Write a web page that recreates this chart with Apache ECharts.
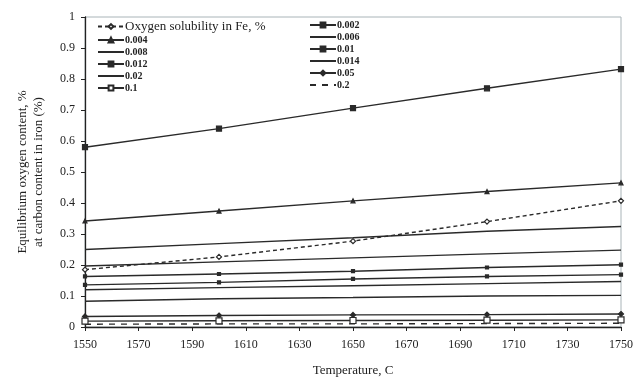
<!DOCTYPE html>
<html>
<head>
<meta charset="utf-8">
<script src="https://cdn.jsdelivr.net/npm/echarts@6/dist/echarts.min.js"></script>
<style>
html, body { margin: 0; padding: 0; background: #fff; }
#chart { width: 644px; height: 378px; }
</style>
</head>
<body>
<div id="chart"></div>
<script>
// temperatures, C
var temps = [1550, 1600, 1650, 1700, 1750];
var xTicks = [1550, 1570, 1590, 1610, 1630, 1650, 1670, 1690, 1710, 1730, 1750];
var yTicks = [0, 0.1, 0.2, 0.3, 0.4, 0.5, 0.6, 0.7, 0.8, 0.9, 1];

// oxygen solubility in Fe, %
var oxySol = [0.185, 0.226, 0.277, 0.34, 0.407];
// equilibrium oxygen at carbon content
var c0002 = [0.58, 0.64, 0.706, 0.77, 0.832];
var c0004 = [0.342, 0.374, 0.407, 0.437, 0.465];
var c0006 = [0.25, 0.269, 0.288, 0.309, 0.324];
var c0008 = [0.197, 0.21, 0.223, 0.236, 0.248];
var c001  = [0.163, 0.171, 0.18, 0.192, 0.201];
var c0012 = [0.136, 0.144, 0.155, 0.163, 0.169];
var c0014 = [0.12, 0.127, 0.133, 0.14, 0.147];
var c002  = [0.083, 0.091, 0.095, 0.1, 0.102];
var c005  = [0.034, 0.037, 0.039, 0.04, 0.042];
var c01   = [0.019, 0.02, 0.021, 0.022, 0.023];
var c02   = [0.009, 0.01, 0.01, 0.011, 0.012];

var lineCol = '#2a2a2a';
var serif = '"Liberation Serif", "DejaVu Serif", serif';

function pairs(vals) {
    var out = [];
    for (var i = 0; i < temps.length; i++) out.push([temps[i], vals[i]]);
    return out;
}

var noSymbol = {};

function mk(name, vals, symbol, size, opts) {
    opts = opts || {};
    if (symbol === 'none') noSymbol[name] = true;
    return {
        name: name,
        type: 'line',
        data: pairs(vals),
        symbol: symbol,
        symbolSize: size,
        showSymbol: symbol !== 'none',
        lineStyle: { color: lineCol, width: 1.4, type: opts.dash || 'solid' },
        itemStyle: { color: opts.hollow ? '#fff' : lineCol, borderColor: lineCol, borderWidth: 1.2 },
        animation: false
    };
}

var series = [
    mk('Oxygen solubility in Fe, %', oxySol, 'diamond', 5, { dash: [4, 3], hollow: true }),
    mk('0.002', c0002, 'rect', 5),
    mk('0.004', c0004, 'triangle', 4),
    mk('0.006', c0006, 'none', 0),
    mk('0.008', c0008, 'none', 0),
    mk('0.01', c001, 'rect', 3),
    mk('0.012', c0012, 'rect', 3),
    mk('0.014', c0014, 'none', 0),
    mk('0.02', c002, 'none', 0),
    mk('0.05', c005, 'diamond', 5),
    mk('0.1', c01, 'rect', 6, { hollow: true }),
    mk('0.2', c02, 'none', 0, { dash: [6, 6] })
];

var leftNames = ['Oxygen solubility in Fe, %', '0.004', '0.008', '0.012', '0.02', '0.1'];
var rightNames = ['0.002', '0.006', '0.01', '0.014', '0.05', '0.2'];

function legendAt(names, left) {
    return {
        data: names.map(function (n) {
            var item = { name: n };
            if (noSymbol[n]) item.itemStyle = { opacity: 0 };
            if (n.charAt(0) === 'O') item.textStyle = { fontSize: 13, fontWeight: 'normal' };
            return item;
        }),
        orient: 'vertical',
        left: left,
        top: 15,
        itemGap: 2,
        itemWidth: 26,
        itemHeight: 6,
        textStyle: { fontFamily: serif, fontSize: 10, fontWeight: 'bold', color: '#222', padding: [0, 0, 0, -4] }
    };
}

var chart = echarts.init(document.getElementById('chart'), null, { renderer: 'canvas' });
chart.setOption({
    backgroundColor: '#fff',
    animation: false,
    grid: { left: 85, right: 23, top: 17, bottom: 51, containLabel: false, outerBoundsMode: 'none',
        show: true, borderColor: '#a9b4b8', borderWidth: 1 },
    legend: [legendAt(leftNames, 92), legendAt(rightNames, 304)],
    xAxis: {
        type: 'value',
        min: 1550,
        max: 1750,
        interval: 20,
        name: 'Temperature, C',
        nameLocation: 'middle',
        nameGap: 37,
        nameTextStyle: { fontFamily: serif, fontSize: 13, color: '#222' },
        axisLine: { lineStyle: { color: '#222', width: 1.3 } },
        axisTick: { show: true, length: 4, lineStyle: { color: '#222' } },
        axisLabel: { fontFamily: serif, fontSize: 12, color: '#222', margin: 12,
            formatter: function (v) { return xTicks.indexOf(v) >= 0 ? String(v) : ''; } },
        splitLine: { show: false }
    },
    yAxis: {
        type: 'value',
        min: 0,
        max: 1,
        interval: 0.1,
        name: 'Equilibrium oxygen content, %\nat carbon content in iron (%)',
        nameLocation: 'middle',
        nameGap: 38,
        nameTextStyle: { fontFamily: serif, fontSize: 13, color: '#222', lineHeight: 16 },
        axisLine: { show: true, lineStyle: { color: '#222', width: 1.3 } },
        axisTick: { show: true, length: 4, lineStyle: { color: '#222' } },
        axisLabel: { fontFamily: serif, fontSize: 12, color: '#222', margin: 10,
            formatter: function (v) { var r = Math.round(v * 10) / 10; return yTicks.indexOf(r) >= 0 ? String(r) : ''; } },
        splitLine: { show: false }
    },
    series: series
});
</script>
</body>
</html>
